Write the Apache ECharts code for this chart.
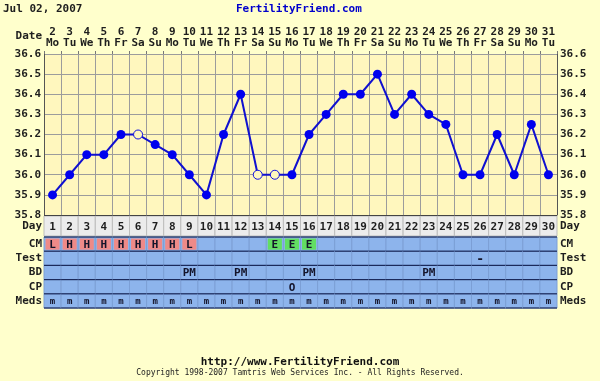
<!DOCTYPE html>
<html><head><meta charset="utf-8">
<script src="https://cdn.jsdelivr.net/npm/echarts@6/dist/echarts.min.js"></script>
<style>html,body{margin:0;padding:0;background:#FFFFCC;}#c{width:600px;height:381px;}</style>
</head><body><div id="c"></div>
<script>
const dates = [2,3,4,5,6,7,8,9,10,11,12,13,14,15,16,17,18,19,20,21,22,23,24,25,26,27,28,29,30,31];
const weekdays = ['Mo','Tu','We','Th','Fr','Sa','Su','Mo','Tu','We','Th','Fr','Sa','Su','Mo','Tu','We','Th','Fr','Sa','Su','Mo','Tu','We','Th','Fr','Sa','Su','Mo','Tu'];
const cycleDays = [1,2,3,4,5,6,7,8,9,10,11,12,13,14,15,16,17,18,19,20,21,22,23,24,25,26,27,28,29,30];
const temps = [35.9,36.0,36.1,36.1,36.2,36.2,36.15,36.1,36.0,35.9,36.2,36.4,36.0,36.0,36.0,36.2,36.3,36.4,36.4,36.5,36.3,36.4,36.3,36.25,36.0,36.0,36.2,36.0,36.25,36.0];
const openDays = [6,13,14];
const cm   = ['L','H','H','H','H','H','H','H','L','','','','','E','E','E','','','','','','','','','','','','','',''];
const test = ['','','','','','','','','','','','','','','','','','','','','','','','','','-','','','',''];
const bd   = ['','','','','','','','','PM','','','PM','','','','PM','','','','','','','PM','','','','','','',''];
const cp   = ['','','','','','','','','','','','','','','O','','','','','','','','','','','','','','',''];
const meds = ['m','m','m','m','m','m','m','m','m','m','m','m','m','m','m','m','m','m','m','m','m','m','m','m','m','m','m','m','m','m'];
const rowLabels = ['CM','Test','BD','CP','Meds'];
const rowsData = [cm, test, bd, cp, meds];

const FONT = '"DejaVu Sans Mono", "Liberation Mono", monospace';
const chart = echarts.init(document.getElementById('c'));

const cellData = [];
rowsData.forEach((row, r) => row.forEach((v, i) => cellData.push([i, r])));
const dayData = cycleDays.map((d, i) => [i, 0]);

const lbl = {fontFamily: FONT, fontWeight: 'bold', fontSize: 11, color: '#1e1e1e'};

chart.setOption({
  backgroundColor: '#FFFFCC',
  animation: false,
  graphic: [
    {type:'text', left: 3, top: 4, style:{text:'Jul 02, 2007', font:'bold 11px ' + FONT, fill:'#1e1e1e'}},
    {type:'text', left: 236, top: 4, style:{text:'FertilityFriend.com', font:'bold 11px ' + FONT, fill:'#0000CC'}},
    {type:'text', right: 558, top: 31, style:{text:'Date', font:'bold 11px ' + FONT, fill:'#1e1e1e', align:'right'}},
    {type:'text', left: 'center', top: 357, style:{text:'http://www.FertilityFriend.com', font:'bold 11px ' + FONT, fill:'#111'}},
    {type:'text', left: 'center', top: 369, style:{text:'Copyright 1998-2007 Tamtris Web Services Inc. - All Rights Reserved.', font:'8px ' + FONT, fill:'#222'}}
  ],
  grid: [
    {left: 44, top: 54, width: 513, height: 161, show: true, backgroundColor: '#FFF7BE', borderWidth: 0},
    {left: 44, top: 216, width: 513, height: 20},
    {left: 44, top: 237, width: 513, height: 71}
  ],
  xAxis: [
    {type:'category', gridIndex:0, position:'top', data: dates,
      axisLine:{show:false},
      axisTick:{show:true, length:3, lineStyle:{color:'#777777'}},
      axisLabel:{...lbl, interval:0, margin:5, lineHeight:11,
        formatter:(v, i) => v + '\n' + weekdays[i]},
      splitLine:{show:true, lineStyle:{color:'#9C9C9C', width:1}}},
    {type:'category', gridIndex:1, data: cycleDays, show:false},
    {type:'category', gridIndex:2, data: cycleDays, show:false}
  ],
  yAxis: [
    {type:'value', gridIndex:0, min:35.8, max:36.6, interval:0.1, position:'left',
      axisLine:{show:true, lineStyle:{color:'#555555'}}, axisTick:{show:false},
      axisLabel:{...lbl, margin:3, formatter: v => v.toFixed(1)},
      splitLine:{show:true, lineStyle:{color:'#9C9C9C', width:1}}},
    {type:'value', gridIndex:0, min:35.8, max:36.6, interval:0.1, position:'right',
      axisLine:{show:true, lineStyle:{color:'#555555'}}, axisTick:{show:false},
      axisLabel:{...lbl, margin:3, formatter: v => v.toFixed(1)},
      splitLine:{show:false}},
    {type:'category', gridIndex:1, data:['Day'], position:'left', axisLine:{show:false}, axisTick:{show:false}, axisLabel:{...lbl, interval:0, margin:2}},
    {type:'category', gridIndex:1, data:['Day'], position:'right', axisLine:{show:false}, axisTick:{show:false}, axisLabel:{...lbl, interval:0, margin:3}},
    {type:'category', gridIndex:2, data:rowLabels, inverse:true, position:'left', axisLine:{show:false}, axisTick:{show:false}, axisLabel:{...lbl, interval:0, margin:2, hideOverlap:false}},
    {type:'category', gridIndex:2, data:rowLabels, inverse:true, position:'right', axisLine:{show:false}, axisTick:{show:false}, axisLabel:{...lbl, interval:0, margin:3, hideOverlap:false}}
  ],
  series: [
    {type:'line', xAxisIndex:0, yAxisIndex:0, z:5,
      data: temps.map((t, i) => openDays.includes(cycleDays[i])
        ? {value:t, itemStyle:{color:'#FFF7BE', borderColor:'#1010E0', borderWidth:1}}
        : {value:t}),
      symbol:'circle', symbolSize:9,
      lineStyle:{color:'#1010D0', width:2},
      itemStyle:{color:'#0000EE', borderWidth:0}},
    {type:'custom', xAxisIndex:1, yAxisIndex:2, data: dayData,
      renderItem: (params, api) => {
        const i = api.value(0);
        const c = api.coord([i, 0]); const s = api.size([1, 1]);
        const x0 = c[0] - s[0] / 2, y0 = c[1] - s[1] / 2;
        return {type:'group', children:[
          {type:'rect', shape:{x:x0, y:y0, width:s[0], height:s[1]}, style:{fill:'#ECECEC', stroke:'#BDBDBD', lineWidth:1}},
          {type:'line', shape:{x1:x0, y1:y0 - 0.5, x2:x0 + s[0], y2:y0 - 0.5}, style:{stroke:'#444', lineWidth:1}},
          {type:'text', style:{text: String(cycleDays[i]), x:c[0], y:c[1] + 1, align:'center', verticalAlign:'middle', font:'bold 11px ' + FONT, fill:'#1e1e1e'}}
        ]};
      }},
    {type:'custom', xAxisIndex:2, yAxisIndex:4, data: cellData,
      renderItem: (params, api) => {
        const i = api.value(0), r = api.value(1);
        const c = api.coord([i, r]); const s = api.size([1, 1]);
        const x0 = c[0] - s[0] / 2, y0 = c[1] - s[1] / 2;
        const txt = rowsData[r][i];
        const ch = [{type:'rect', shape:{x:x0, y:y0, width:s[0], height:s[1]}, style:{fill:'#8DB4EC', stroke:'#7C9FD6', lineWidth:1}}];
        if (r === 0 && txt) {
          ch.push({type:'rect', shape:{x:x0 + 1.5, y:y0 + 1.5, width:s[0] - 3, height:s[1] - 3}, style:{fill: txt === 'E' ? '#62DE62' : '#EE8A88'}});
        }
        ch.push({type:'line', shape:{x1:x0, y1:y0, x2:x0 + s[0], y2:y0}, style:{stroke:'#1B2A5C', lineWidth:1.2}});
        if (r === rowsData.length - 1) {
          ch.push({type:'line', shape:{x1:x0, y1:y0 + s[1], x2:x0 + s[0], y2:y0 + s[1]}, style:{stroke:'#1B2A5C', lineWidth:1.2}});
        }
        if (txt) {
          ch.push({type:'text', style:{text: txt, x:c[0], y:c[1] + 1, align:'center', verticalAlign:'middle',
            font: (r === 4 ? 'bold 9px ' : (txt === '-' ? 'bold 13px ' : 'bold 11px ')) + FONT, fill:'#14142a'}});
        }
        return {type:'group', children: ch};
      }}
  ]
});
</script></body></html>
